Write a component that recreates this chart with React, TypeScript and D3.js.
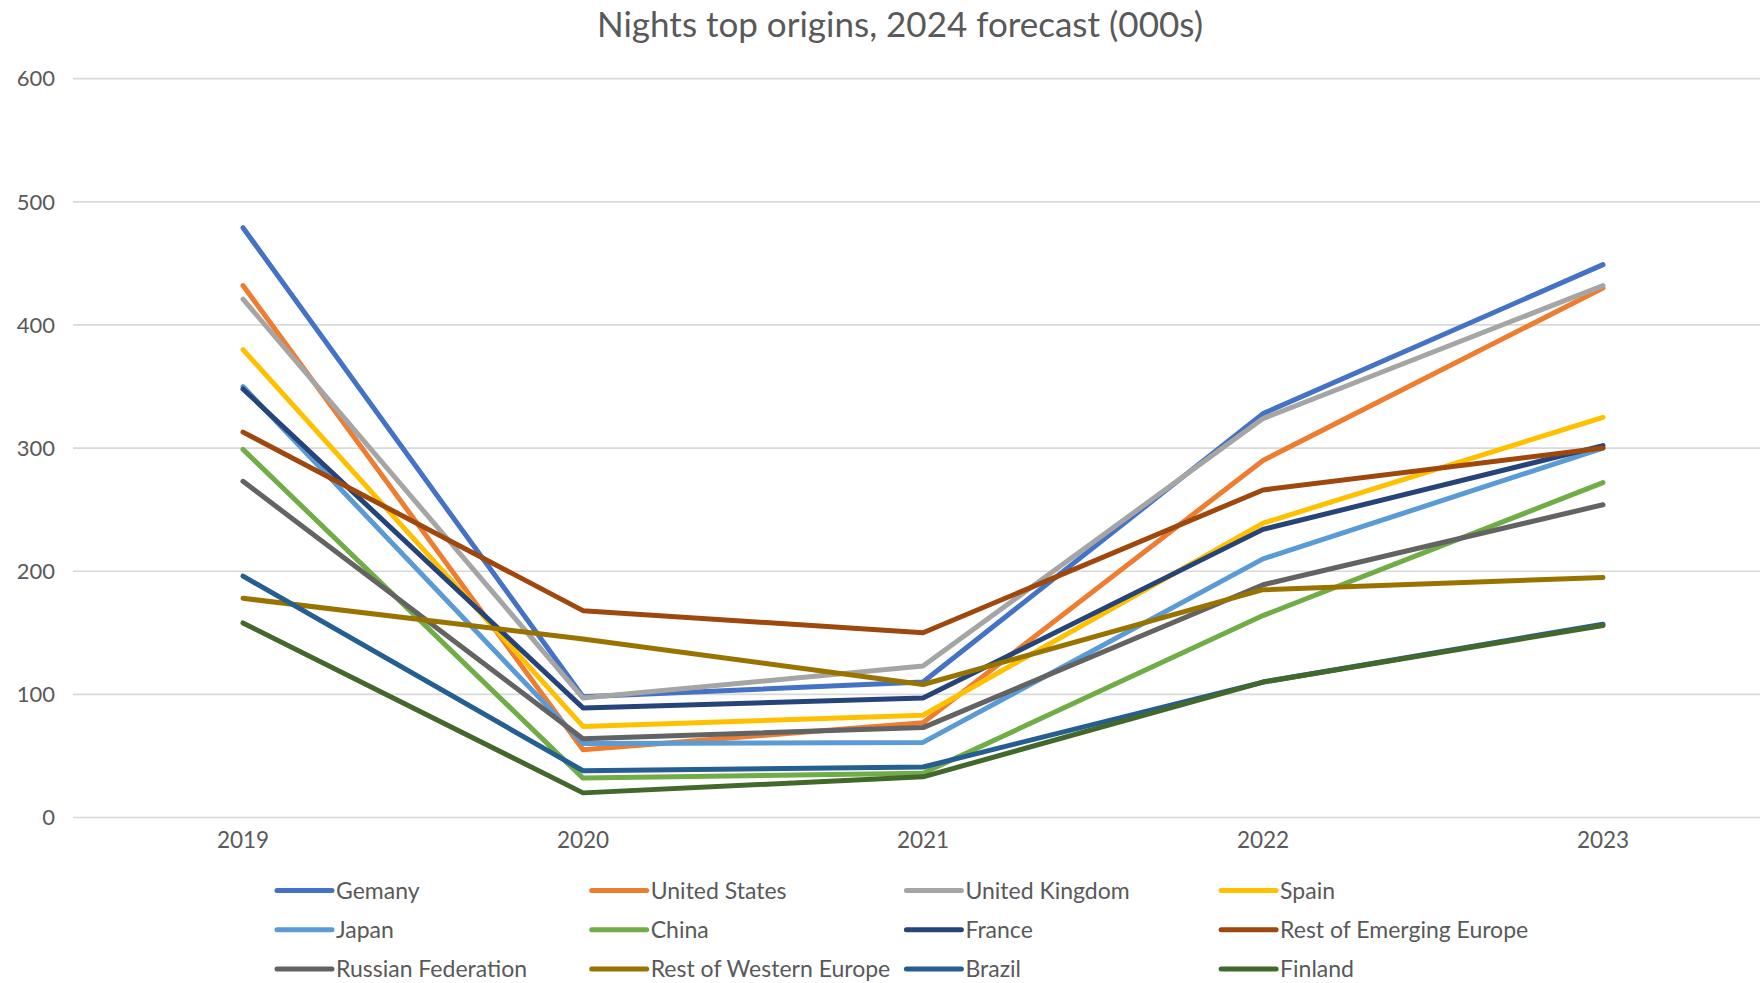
import * as d3 from "d3";

const years = ["2019", "2020", "2021", "2022", "2023"];
const yTicks = [0, 100, 200, 300, 400, 500, 600];

const germany = [479, 98, 110, 328, 449];
const unitedStates = [432, 55, 77, 290, 430];
const unitedKingdom = [421, 97, 123, 324, 432];
const spain = [380, 74, 83, 239, 325];
const japan = [350, 60, 61, 210, 300];
const china = [299, 32, 36, 164, 272];
const france = [348, 89, 97, 234, 302];
const restEmerging = [313, 168, 150, 266, 300];
const russia = [273, 64, 73, 189, 254];
const restWestern = [178, 145, 108, 185, 195];
const brazil = [196, 38, 41, 110, 157];
const finland = [158, 20, 33, 110, 156];

const series = [
  { name: "Germany", label: "Gemany", color: "#4472C4", values: germany },
  { name: "United States", label: "United States", color: "#ED7D31", values: unitedStates },
  { name: "United Kingdom", label: "United Kingdom", color: "#A5A5A5", values: unitedKingdom },
  { name: "Spain", label: "Spain", color: "#FFC000", values: spain },
  { name: "Japan", label: "Japan", color: "#5B9BD5", values: japan },
  { name: "China", label: "China", color: "#70AD47", values: china },
  { name: "France", label: "France", color: "#264478", values: france },
  { name: "Rest of Emerging Europe", label: "Rest of Emerging Europe", color: "#9E480E", values: restEmerging },
  { name: "Russian Federation", label: "Russian Federation", color: "#636363", values: russia },
  { name: "Rest of Western Europe", label: "Rest of Western Europe", color: "#997300", values: restWestern },
  { name: "Brazil", label: "Brazil", color: "#255E91", values: brazil },
  { name: "Finland", label: "Finland", color: "#43682B", values: finland },
];

const W = 1760;
const H = 983;
const FONT = "Lato, 'Open Sans', sans-serif";
const TEXT = "#595959";

export default function App() {
  const x = d3.scaleBand<string>().domain(years).range([73, 1773]);
  const y = d3.scaleLinear().domain([0, 600]).range([817.5, 78.7]);
  const cx = (d: string) => (x(d) ?? 0) + x.bandwidth() / 2;

  const line = d3
    .line<number>()
    .x((_, i) => cx(years[i]))
    .y((v) => y(v));

  return (
    <svg
      width={W}
      height={H}
      style={{ position: "absolute", left: 0, top: 0, background: "#fff" }}
      fontFamily={FONT}
    >
      <text x={900} y={37} textAnchor="middle" fontSize={35} fill={TEXT}>
        Nights top origins, 2024 forecast (000s)
      </text>

      {yTicks.map((t) => (
        <g key={t}>
          <line x1={73} x2={W} y1={y(t)} y2={y(t)} stroke="#D9D9D9" strokeWidth={1.7} />
          <text x={55} y={y(t)} dy="0.35em" textAnchor="end" fontSize={22} fill={TEXT}>
            {t}
          </text>
        </g>
      ))}

      {years.map((yr) => (
        <text key={yr} x={cx(yr)} y={848} textAnchor="middle" fontSize={22.5} fill={TEXT}>
          {yr}
        </text>
      ))}

      {series.map((s) => (
        <path
          key={s.name}
          d={line(s.values) ?? ""}
          fill="none"
          stroke={s.color}
          strokeWidth={5}
          strokeLinejoin="round"
          strokeLinecap="round"
        />
      ))}

      {series.map((s, i) => {
        const col = i % 4;
        const row = Math.floor(i / 4);
        const lx = 277 + col * 314.7;
        const ly = 890.5 + row * 39.3;
        return (
          <g key={s.name} transform={`translate(${lx},${ly})`}>
            <line x1={0} x2={55} y1={0} y2={0} stroke={s.color} strokeWidth={5} strokeLinecap="round" />
            <text x={59} y={0} dy="0.35em" fontSize={23} fill={TEXT}>
              {s.label}
            </text>
          </g>
        );
      })}
    </svg>
  );
}
